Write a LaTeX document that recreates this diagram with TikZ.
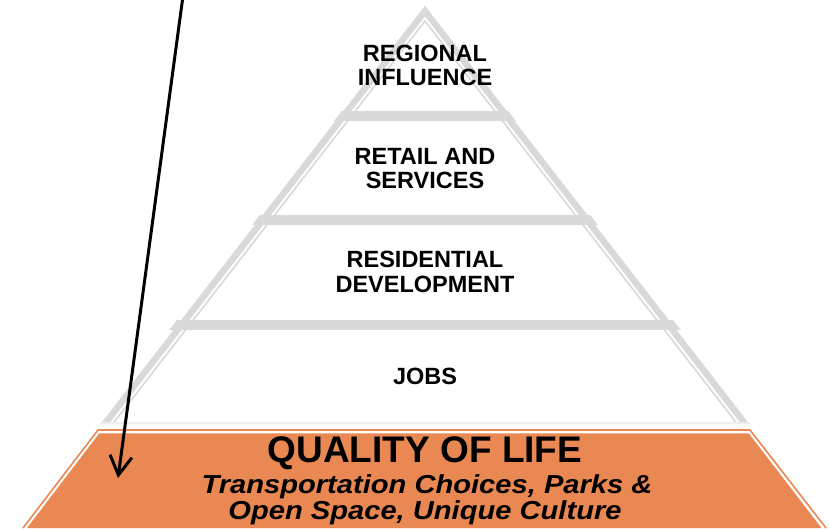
\documentclass[tikz,border=0pt]{standalone}
\usepackage{fontspec}
\setmainfont{Liberation Sans}
\usetikzlibrary{arrows.meta}
\definecolor{pgray}{RGB}{217,217,217}
\definecolor{pfaint}{RGB}{238,238,238}
\definecolor{porange}{RGB}{233,136,82}
\tikzset{
  band/.style={draw=pgray, line width=6.5pt, line cap=butt},
  thinband/.style={draw=pgray, line width=1.6pt},
  bar/.style={draw=pgray, line width=10pt, line cap=butt},
  tierlbl/.style={anchor=base, inner sep=0pt, font=\fontsize{23.5}{24}\selectfont\bfseries},
  baselbl/.style={anchor=base, inner sep=0pt, font=\fontsize{37}{38}\selectfont\bfseries},
  sublbl/.style={anchor=base, inner sep=0pt, xscale=1.12, font=\fontsize{26}{27}\selectfont\bfseries\itshape},
  pointer/.style={draw=black, line width=3pt, -{Straight Barb[length=19pt,width=22pt]}}
}
\begin{document}
\begin{tikzpicture}[x=1pt,y=-1pt]
\useasboundingbox (0,0) rectangle (829,528);
\fill[white] (0,0) rectangle (829,528);
% pyramid outline
\coordinate (apex) at (425,11);
\coordinate (bl) at (100,430);
\coordinate (br) at (750,430);
\begin{scope}
\clip (95.8,423) -- (425,5.7) -- (754.2,423) -- cycle;
\draw[band, line join=miter] (bl) -- (apex) -- (br);
\draw[thinband] (108,430) -- (425,21) -- (742,430);
\draw[bar] (300,116) -- (550,116);
\draw[bar] (200,220) -- (650,220);
\draw[bar] (120,325) -- (730,325);
\end{scope}
% faint bottom line
\draw[draw=pfaint, line width=2pt] (100,423) -- (750,423);
% orange base
\draw[draw=porange, line width=1.6pt] (23,528) -- (98,430) -- (750,430) -- (826,528);
\fill[porange] (27,528) -- (99.3,433.3) -- (748.7,433.3) -- (821.5,528) -- cycle;
% labels
\node[tierlbl] (r1) at (425,61) {REGIONAL};
\node[tierlbl] (r2) at (425,85) {INFLUENCE};
\node[tierlbl] (s1) at (425,164) {RETAIL AND};
\node[tierlbl] (s2) at (425,188.5) {SERVICES};
\node[tierlbl] (d1) at (425,267.5) {RESIDENTIAL};
\node[tierlbl] (d2) at (425,292) {DEVELOPMENT};
\node[tierlbl] (jobs) at (425,384) {JOBS};
\node[baselbl] (q) at (425,462) {QUALITY OF LIFE};
\node[sublbl] (t1) at (427,493) {Transportation Choices, Parks \&};
\node[sublbl] (t2) at (425,519.5) {Open Space, Unique Culture};
% pointer arrow
\coordinate (ptop) at (183,-4);
\coordinate (ptip) at (118,478);
\draw[pointer] (ptop) -- (ptip);
\end{tikzpicture}
\end{document}
